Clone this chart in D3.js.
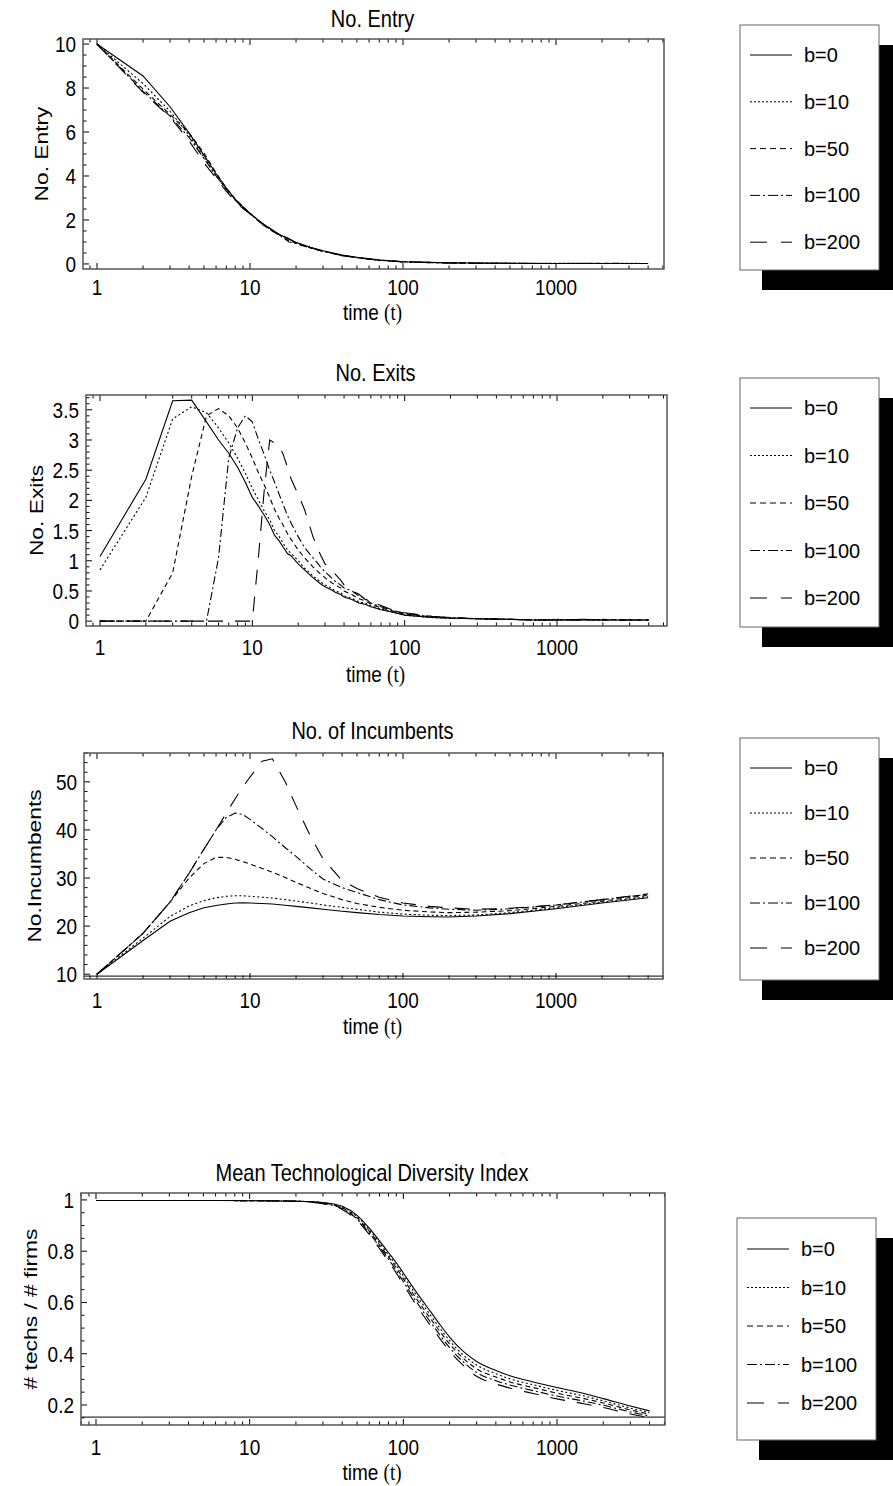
<!DOCTYPE html>
<html>
<head>
<meta charset="utf-8">
<script src="https://cdn.jsdelivr.net/npm/d3@7"></script>
<style>
  html, body { margin: 0; padding: 0; background: #fff; }
  svg { display: block; }
  text { font-family: "Liberation Sans", Arial, sans-serif; fill: #000; }
</style>
</head>
<body>
<svg id="chart" width="893" height="1486"></svg>
<script>
// ---------------- DATA ----------------
const seriesNames = ["b=0", "b=10", "b=50", "b=100", "b=200"];
const xTickValues = [1, 10, 100, 1000];

// Panel 1: No. Entry
const tEntry = [1,2,3,4,5,6,7,8,9,10,12,14,16,18,20,25,30,40,50,70,100,150,200,300,500,700,1000,1500,2000,3000,4000];
const entryB0   = [10,8.55,7.15,5.95,4.95,4.1,3.45,2.95,2.6,2.3,1.85,1.55,1.3,1.12,0.98,0.75,0.6,0.4,0.3,0.18,0.1,0.07,0.05,0.04,0.03,0.03,0.02,0.03,0.02,0.02,0.02];
const entryB10  = [10,8.2,6.95,5.85,4.85,4.0,3.4,2.92,2.57,2.28,1.83,1.52,1.28,1.15,0.97,0.74,0.6,0.4,0.3,0.18,0.1,0.07,0.05,0.04,0.03,0.02,0.03,0.02,0.02,0.03,0.02];
const entryB50  = [10,7.95,6.8,5.95,5.05,4.15,3.45,2.95,2.6,2.3,1.8,1.5,1.28,1.05,0.95,0.73,0.58,0.39,0.29,0.17,0.1,0.07,0.05,0.03,0.03,0.02,0.02,0.02,0.03,0.02,0.02];
const entryB100 = [10,7.85,6.72,5.75,4.8,4.0,3.4,2.9,2.55,2.3,1.85,1.5,1.25,1.0,0.92,0.72,0.57,0.38,0.28,0.17,0.1,0.06,0.05,0.03,0.02,0.02,0.02,0.02,0.02,0.02,0.02];
const entryB200 = [10,7.8,6.68,5.6,4.6,3.9,3.3,2.85,2.52,2.28,1.82,1.55,1.32,1.15,0.96,0.74,0.58,0.38,0.28,0.17,0.09,0.06,0.05,0.03,0.03,0.02,0.02,0.02,0.02,0.02,0.02];
const entryYTicks = [0,2,4,6,8,10];

// Panel 2: No. Exits
const tExit = [1,2,3,4,5,6,7,8,9,10,11,12,13,14,15,16,17,18,20,22,25,28,30,33,35,38,40,45,50,55,60,70,80,100,150,200,300,500,700,1000,1500,2000,3000,4000];
const exitB0   = [1.07,2.35,3.65,3.66,3.3,3.0,2.78,2.55,2.3,2.05,1.9,1.75,1.6,1.42,1.33,1.22,1.12,1.08,0.95,0.85,0.72,0.62,0.57,0.52,0.48,0.44,0.4,0.36,0.3,0.28,0.24,0.19,0.16,0.1,0.06,0.05,0.04,0.03,0.02,0.02,0.03,0.02,0.02,0.02];
const exitB10  = [0.85,2.05,3.35,3.55,3.45,3.2,2.95,2.7,2.45,2.2,2.0,1.82,1.68,1.5,1.4,1.28,1.18,1.12,1.0,0.88,0.75,0.65,0.6,0.55,0.5,0.47,0.42,0.38,0.32,0.3,0.25,0.2,0.16,0.1,0.06,0.05,0.04,0.03,0.02,0.03,0.02,0.02,0.02,0.02];
const exitB50  = [0,0,0.8,2.4,3.4,3.52,3.4,3.2,2.95,2.7,2.45,2.25,2.05,1.85,1.7,1.58,1.45,1.35,1.18,1.05,0.9,0.78,0.72,0.64,0.6,0.55,0.5,0.44,0.37,0.34,0.28,0.22,0.18,0.12,0.07,0.05,0.04,0.03,0.02,0.02,0.02,0.03,0.02,0.02];
const exitB100 = [0,0,0,0,0,1.05,2.7,3.2,3.4,3.3,3.0,2.75,2.5,2.3,2.1,1.92,1.75,1.62,1.4,1.22,1.05,0.9,0.82,0.72,0.66,0.6,0.55,0.5,0.42,0.38,0.3,0.24,0.19,0.13,0.08,0.06,0.04,0.03,0.02,0.02,0.02,0.02,0.02,0.02];
const exitB200 = [0,0,0,0,0,0,0,0,0,0,1.1,2.2,3.0,2.95,2.9,2.75,2.55,2.35,2.1,1.85,1.4,1.1,0.95,0.85,0.78,0.68,0.6,0.5,0.45,0.36,0.32,0.26,0.2,0.14,0.08,0.06,0.04,0.03,0.02,0.02,0.02,0.02,0.02,0.02];
const exitYTicks = [0,0.5,1,1.5,2,2.5,3,3.5];

// Panel 3: No. of Incumbents
const tInc = [1,2,3,4,5,6,7,8,9,10,12,14,17,20,25,30,40,50,70,100,150,200,300,500,1000,2000,4000];
const incB0   = [10,17.0,21.0,22.8,23.8,24.3,24.6,24.8,24.85,24.8,24.7,24.6,24.35,24.1,23.8,23.5,23.1,22.8,22.4,22.1,21.95,21.9,22.1,22.6,23.6,24.8,25.9];
const incB10  = [10,17.5,22.0,24.2,25.3,25.9,26.2,26.3,26.3,26.2,26.0,25.85,25.5,25.2,24.8,24.4,23.9,23.5,22.9,22.5,22.25,22.2,22.3,22.8,23.8,25.0,26.1];
const incB50  = [10,18.5,25.0,30.0,33.0,34.3,34.3,33.9,33.4,32.9,32.0,31.2,30.1,29.1,27.8,26.8,25.5,24.7,23.9,23.3,22.95,22.8,22.9,23.2,24.1,25.2,26.4];
const incB100 = [10,18.5,25.0,31.0,36.0,40.0,42.6,43.5,43.2,42.2,40.3,38.6,36.3,34.5,31.8,29.8,28.0,27.0,25.5,24.4,23.8,23.5,23.3,23.6,24.4,25.5,26.6];
const incB200 = [10,18.5,25.0,31.0,36.0,40.0,43.5,46.5,49.0,51.0,54.3,54.8,50.0,45.0,38.5,34.0,29.5,27.8,26.0,24.8,24.1,23.8,23.5,23.7,24.4,25.5,26.7];
const incYTicks = [10,20,30,40,50];

// Panel 4: Mean Technological Diversity Index
const tDiv = [1,5,10,20,30,40,50,60,70,80,90,100,120,150,175,200,250,300,400,500,700,1000,1500,2000,3000,4000];
const divB0   = [0.998,0.998,0.997,0.995,0.990,0.975,0.940,0.890,0.840,0.795,0.755,0.715,0.645,0.565,0.510,0.465,0.405,0.370,0.335,0.313,0.290,0.268,0.245,0.225,0.196,0.177];
const divB10  = [0.998,0.998,0.997,0.995,0.989,0.972,0.935,0.884,0.833,0.786,0.745,0.704,0.633,0.551,0.496,0.451,0.391,0.356,0.322,0.301,0.279,0.257,0.235,0.216,0.188,0.170];
const divB50  = [0.998,0.998,0.997,0.995,0.988,0.969,0.930,0.878,0.825,0.778,0.735,0.693,0.620,0.538,0.483,0.438,0.378,0.341,0.309,0.289,0.268,0.246,0.225,0.208,0.181,0.164];
const divB100 = [0.998,0.998,0.997,0.995,0.986,0.966,0.925,0.871,0.818,0.769,0.725,0.681,0.608,0.524,0.469,0.424,0.364,0.327,0.295,0.277,0.256,0.235,0.215,0.199,0.173,0.157];
const divB200 = [0.998,0.998,0.997,0.995,0.985,0.963,0.920,0.865,0.810,0.760,0.715,0.670,0.595,0.510,0.455,0.410,0.350,0.312,0.282,0.265,0.245,0.224,0.205,0.190,0.165,0.150];
const divYTicks = [0.2,0.4,0.6,0.8,1];

// ---------------- STYLE / LAYOUT ----------------
const dashes = [null, "2,2.5", "5,3.5", "8,3,2,3", "15,12"];
const legendDashes = [null, "2,2", "6,4", "10,3,2,3", "17,14"];

const panels = [
  { title: "No. Entry", ylabel: "No. Entry", t: tEntry, series: [entryB0, entryB10, entryB50, entryB100, entryB200],
    yDomain: [-0.23, 10.23], yTicks: entryYTicks, yMinorStep: 0.5, yFmt: d => d3.format("d")(d), curve: d3.curveLinear,
    left: 83, right: 664, top: 39, bottom: 269, x1: 97, x1000: 556, titleY: 19, ylabelX: 48, tickOff: 18, xlabOff: 43,
    legend: { x: 740, y: 25, w: 139, h: 245, rowY0: 55, rowStep: 46.8 } },
  { title: "No. Exits", ylabel: "No. Exits", t: tExit, series: [exitB0, exitB10, exitB50, exitB100, exitB200],
    yDomain: [-0.08, 3.745], yTicks: exitYTicks, yMinorStep: 0.1, yFmt: d => (d % 1 === 0 ? d3.format("d")(d) : d3.format(".1f")(d)), curve: d3.curveLinear,
    left: 86, right: 667, top: 395, bottom: 626, x1: 100, x1000: 557, titleY: 373, ylabelX: 43, tickOff: 21, xlabOff: 48,
    legend: { x: 740, y: 378, w: 139, h: 249, rowY0: 408, rowStep: 47.5 } },
  { title: "No. of Incumbents", ylabel: "No.Incumbents", t: tInc, series: [incB0, incB10, incB50, incB100, incB200],
    yDomain: [9.0, 56.0], yTicks: incYTicks, yMinorStep: 2, yFmt: d => d3.format("d")(d), axisLine: 9.6, curve: d3.curveLinear,
    left: 84, right: 663, top: 753, bottom: 979, x1: 97, x1000: 556, titleY: 731, ylabelX: 41, tickOff: 21, xlabOff: 47,
    legend: { x: 740, y: 738, w: 139, h: 242, rowY0: 768, rowStep: 45 } },
  { title: "Mean Technological Diversity Index", ylabel: "# techs / # firms", t: tDiv, series: [divB0, divB10, divB50, divB100, divB200],
    yDomain: [0.122, 1.027], yTicks: divYTicks, yMinorStep: 0.05, yFmt: d => (d === 1 ? "1" : d3.format(".1f")(d)), axisLine: 0.153, curve: d3.curveMonotoneX,
    left: 81, right: 665, top: 1193, bottom: 1425, x1: 96, x1000: 557, titleY: 1173, ylabelX: 37, tickOff: 22, xlabOff: 47,
    legend: { x: 737, y: 1218, w: 139, h: 222, rowY0: 1249, rowStep: 38.5 } }
];

const svg = d3.select("#chart");
const FS = 19;       // plot text size
const TFS = 20;      // title size
const STRETCH = 1.2; // vertical stretch of the original plot text

function hText(g, x, y, str, anchor, size) {
  const gg = g.append("g").attr("transform", `translate(${x},${y}) scale(1,${STRETCH})`);
  return gg.append("text").attr("text-anchor", anchor || "middle").attr("dy", "0.35em")
    .attr("font-size", size || FS).text(str);
}

panels.forEach(p => {
  const g = svg.append("g");
  const calib = d3.scaleLog().domain([1, 1000]).range([p.x1, p.x1000]);
  const x = d3.scaleLog().domain([calib.invert(p.left), calib.invert(p.right)]).range([p.left, p.right]);
  const y = d3.scaleLinear().domain(p.yDomain).range([p.bottom, p.top]);

  const clipId = "clip" + p.top;
  svg.append("clipPath").attr("id", clipId).append("rect")
    .attr("x", p.left).attr("y", p.top).attr("width", p.right - p.left).attr("height", p.bottom - p.top);

  const line = d3.line().x((d, i) => x(p.t[i])).y(d => y(d)).curve(p.curve);
  p.series.forEach((s, k) => {
    g.append("path").attr("d", line(s))
      .attr("clip-path", `url(#${clipId})`)
      .attr("fill", "none").attr("stroke", "#000").attr("stroke-width", 1.1)
      .attr("stroke-dasharray", dashes[k]);
  });

  if (p.axisLine !== undefined) {
    g.append("line").attr("x1", p.left).attr("x2", p.right)
      .attr("y1", y(p.axisLine)).attr("y2", y(p.axisLine))
      .attr("stroke", "#333").attr("stroke-width", 1.2);
  }

  // x ticks
  const [xd0, xd1] = x.domain();
  const xt = [];
  for (let e = -1; e <= 4; e++) for (let m = 1; m <= 9; m++) {
    const v = m * Math.pow(10, e);
    if (v >= xd0 && v <= xd1) xt.push(v);
  }
  xt.forEach(v => {
    const len = xTickValues.includes(v) ? 6 : 3.5;
    g.append("line").attr("x1", x(v)).attr("x2", x(v)).attr("y1", p.bottom).attr("y2", p.bottom - len)
      .attr("stroke", "#000").attr("stroke-width", 1);
    g.append("line").attr("x1", x(v)).attr("x2", x(v)).attr("y1", p.top).attr("y2", p.top + len)
      .attr("stroke", "#000").attr("stroke-width", 1);
  });
  xTickValues.forEach(v => hText(g, x(v), p.bottom + p.tickOff, d3.format("d")(v)));

  // y ticks
  const [yd0, yd1] = p.yDomain;
  const yMinor = d3.range(Math.ceil(yd0 / p.yMinorStep) * p.yMinorStep, yd1 + 1e-9, p.yMinorStep);
  yMinor.forEach(v => {
    const isMajor = p.yTicks.some(t => Math.abs(t - v) < 1e-6);
    g.append("line").attr("x1", p.left).attr("x2", p.left + (isMajor ? 6 : 3.5))
      .attr("y1", y(v)).attr("y2", y(v)).attr("stroke", "#000").attr("stroke-width", 1);
  });
  p.yTicks.forEach(v => hText(g, p.left - 7, y(v), p.yFmt(v), "end"));

  // frame
  g.append("rect").attr("x", p.left).attr("y", p.top)
    .attr("width", p.right - p.left).attr("height", p.bottom - p.top)
    .attr("fill", "none").attr("stroke", "#555").attr("stroke-width", 1.5);

  // titles
  const cx = (p.left + p.right) / 2 - 1;
  hText(g, cx, p.titleY, p.title, "middle", TFS);
  const xl = hText(g, cx, p.bottom + p.xlabOff, "");
  xl.append("tspan").text("time ");
  xl.append("tspan").attr("font-family", "'Liberation Serif', 'Times New Roman', serif").text("(t)");
  g.append("g").attr("transform", `translate(${p.ylabelX},${(p.top + p.bottom) / 2}) rotate(-90) scale(${STRETCH},1)`)
    .append("text").attr("text-anchor", "middle").attr("font-size", FS).text(p.ylabel);

  // legend with drop shadow
  const L = p.legend;
  g.append("rect").attr("x", L.x + 22).attr("y", L.y + 20).attr("width", L.w).attr("height", L.h).attr("fill", "#000");
  g.append("rect").attr("x", L.x).attr("y", L.y).attr("width", L.w).attr("height", L.h)
    .attr("fill", "#fff").attr("stroke", "#666").attr("stroke-width", 1);
  seriesNames.forEach((nm, k) => {
    const ry = L.rowY0 + k * L.rowStep;
    g.append("line").attr("x1", L.x + 10).attr("x2", L.x + 52).attr("y1", ry).attr("y2", ry)
      .attr("stroke", "#000").attr("stroke-width", 1).attr("stroke-dasharray", legendDashes[k]);
    g.append("text").attr("x", L.x + 64).attr("y", ry).attr("dy", "0.35em")
      .attr("font-size", 20).text(nm);
  });
});
</script>
</body>
</html>
